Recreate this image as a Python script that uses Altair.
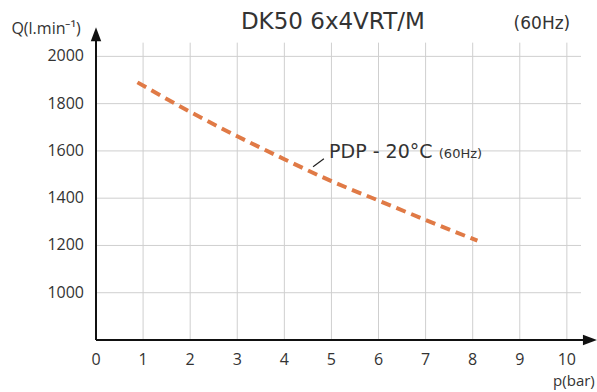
import altair as alt
import pandas as pd

# ---- data ----
pressure = [0.88, 2, 3, 4, 5, 6, 7, 8.1]
flow = [1890, 1765, 1662, 1565, 1472, 1390, 1308, 1220]
x_ticks = [0, 1, 2, 3, 4, 5, 6, 7, 8, 9, 10]
y_ticks = [1000, 1200, 1400, 1600, 1800, 2000]

title_text = "DK50 6x4VRT/M"
freq_text = "(60Hz)"
series_label = "PDP - 20°C"
series_sub = "(60Hz)"
y_title = "Q(l.min⁻¹)"
x_title = "p(bar)"

FONT = "Open Sans"
FONT2 = "DejaVu Sans"
TXT = "#333333"
XMAX = 10.64
YMIN, YMAX = 800, 2120

xs = alt.Scale(domain=[0, XMAX], nice=False, zero=False)
ys = alt.Scale(domain=[YMIN, YMAX], nice=False, zero=False)

curve = pd.DataFrame({"p": pressure, "q": flow})

# gridlines
vgrid = pd.DataFrame({"p": x_ticks[1:], "q0": [YMIN] * 10, "q1": [2058] * 10})
hgrid = pd.DataFrame({"q": y_ticks, "p0": [0] * 6, "p1": [10.3] * 6})

vg = alt.Chart(vgrid).mark_rule(color="#cfcfcf", strokeWidth=1).encode(
    x=alt.X("p:Q", scale=xs, axis=None), y=alt.Y("q0:Q", scale=ys, axis=None), y2="q1:Q")
hg = alt.Chart(hgrid).mark_rule(color="#cfcfcf", strokeWidth=1).encode(
    y=alt.Y("q:Q", scale=ys, axis=None), x=alt.X("p0:Q", scale=xs, axis=None), x2="p1:Q")

# tick labels
xaxis_labels = alt.Chart(pd.DataFrame({"p": x_ticks, "q": [YMIN] * 11})).mark_text(
    font=FONT, fontSize=16, color=TXT, baseline="middle", dy=20).encode(
    x=alt.X("p:Q", scale=xs, axis=None), y=alt.Y("q:Q", scale=ys, axis=None), text="p:N")
yaxis_labels = alt.Chart(pd.DataFrame({"q": y_ticks, "p": [0] * 6})).mark_text(
    font=FONT, fontSize=16, color=TXT, align="right", baseline="middle", dx=-12).encode(
    x=alt.X("p:Q", scale=xs, axis=None), y=alt.Y("q:Q", scale=ys, axis=None), text="q:N")

# axis lines
xline = alt.Chart(pd.DataFrame({"p0": [0], "p1": [XMAX - 0.2], "q": [YMIN]})).mark_rule(
    color="#111111", strokeWidth=2).encode(
    x=alt.X("p0:Q", scale=xs, axis=None), x2="p1:Q", y=alt.Y("q:Q", scale=ys, axis=None))
yline = alt.Chart(pd.DataFrame({"q0": [YMIN], "q1": [YMAX - 40], "p": [0]})).mark_rule(
    color="#111111", strokeWidth=2).encode(
    y=alt.Y("q0:Q", scale=ys, axis=None), y2="q1:Q", x=alt.X("p:Q", scale=xs, axis=None))

up_arrow = alt.Chart(pd.DataFrame({"p": [0], "q": [YMAX - 26]})).mark_point(
    shape="M0,-1L0.75,1L-0.75,1Z", filled=True, color="#111111", opacity=1, size=196).encode(
    x=alt.X("p:Q", scale=xs, axis=None), y=alt.Y("q:Q", scale=ys, axis=None))
right_arrow = alt.Chart(pd.DataFrame({"p": [XMAX - 0.15], "q": [YMIN]})).mark_point(
    shape="M1,0L-1,0.75L-1,-0.75Z", filled=True, color="#111111", opacity=1, size=196).encode(
    x=alt.X("p:Q", scale=xs, axis=None), y=alt.Y("q:Q", scale=ys, axis=None))

line = alt.Chart(curve).mark_line(color="#E07A46", strokeWidth=4, strokeDash=[10, 6],
                                  interpolate="monotone").encode(
    x=alt.X("p:Q", scale=xs, axis=None), y=alt.Y("q:Q", scale=ys, axis=None))


def txt(df, font=FONT, **kw):
    return alt.Chart(df).mark_text(font=font, color=TXT, **kw).encode(
        x=alt.X("p:Q", scale=xs, axis=None), y=alt.Y("q:Q", scale=ys, axis=None), text="t:N")


title = txt(pd.DataFrame({"p": [5.03], "q": [2147], "t": [title_text]}), font=FONT2,
            fontSize=23, align="center", baseline="middle")
freq = txt(pd.DataFrame({"p": [9.47], "q": [2135], "t": [freq_text]}), font=FONT2,
           fontSize=17, align="center", baseline="middle")
ytitle = txt(pd.DataFrame({"p": [-1.06], "q": [2114], "t": [y_title]}),
             fontSize=16, align="center", baseline="middle")
xtitle = txt(pd.DataFrame({"p": [10.15], "q": [626], "t": [x_title]}),
             fontSize=15, align="center", baseline="middle")
lab = txt(pd.DataFrame({"p": [4.95], "q": [1571], "t": [series_label]}), font=FONT2,
          fontSize=19, align="left", baseline="alphabetic")
lab2 = txt(pd.DataFrame({"p": [7.28], "q": [1571], "t": [series_sub]}), font=FONT2,
           fontSize=13, align="left", baseline="alphabetic")
leader = alt.Chart(pd.DataFrame({"p0": [4.61], "p1": [4.84], "q0": [1533], "q1": [1567]})).mark_rule(
    color="#222222", strokeWidth=1.2).encode(
    x=alt.X("p0:Q", scale=xs, axis=None), x2="p1:Q",
    y=alt.Y("q0:Q", scale=ys, axis=None), y2="q1:Q")

chart = alt.layer(
    vg, hg, line, xline, yline, up_arrow, right_arrow,
    xaxis_labels, yaxis_labels, title, freq, ytitle, xtitle, lab, lab2, leader
).properties(
    width=501, height=312,
    autosize=alt.AutoSizeParams(type="none"),
    padding={"left": 96, "top": 28, "right": 0, "bottom": 52},
    background="white",
).configure_view(stroke=None)

chart.save("out.html", embed_options={"renderer": "svg", "actions": False})
